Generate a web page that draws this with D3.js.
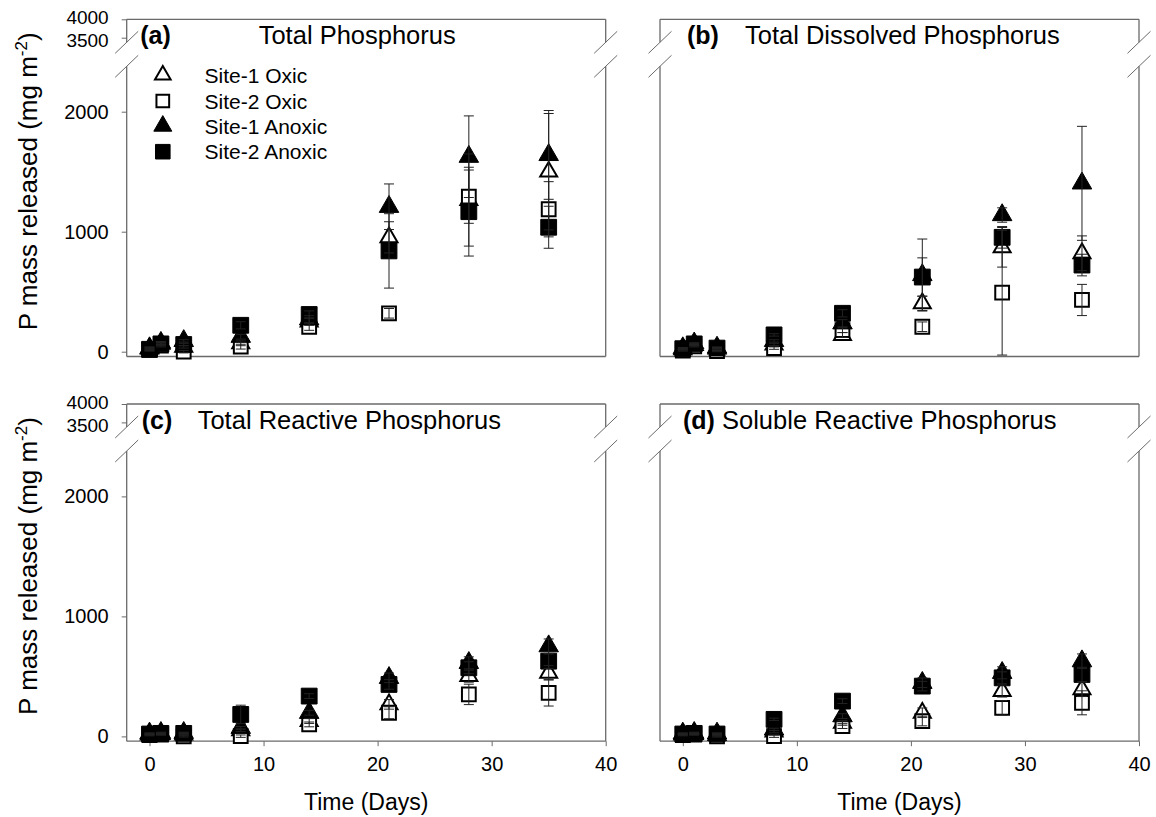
<!DOCTYPE html>
<html><head><meta charset="utf-8">
<script src="https://cdn.jsdelivr.net/npm/d3@7"></script>
<style>
body{margin:0;background:#fff}
svg{display:block;font-family:"Liberation Sans",Arial,sans-serif}
</style></head><body>
<svg id="chart" width="1156" height="817"></svg>
<script>
const days = [0, 1, 3, 8, 14, 21, 28, 35]
const seriesNames = ["Site-1 Oxic", "Site-2 Oxic", "Site-1 Anoxic", "Site-2 Anoxic"]
const panelLetters = ["(a)", "(b)", "(c)", "(d)"]
const panelTitles = ["Total Phosphorus", "Total Dissolved Phosphorus", "Total Reactive Phosphorus", "Soluble Reactive Phosphorus"]
const xTicks = [0, 10, 20, 30, 40]
const yTicksLow = [0, 1000, 2000]
const yTicksHigh = [3500, 4000]

// rows follow seriesNames order
const tpMean = [
	[25, 65, 40, 70, 250, 953, 1264, 1500],
	[15, 50, 0, 42, 208, 320, 1292, 1187],
	[30, 75, 90, 125, 270, 1208, 1625, 1640],
	[20, 65, 60, 220, 310, 840, 1167, 1037]]
const tpErr = [
	[10, 10, 10, 20, 30, 130, 384, 485],
	[10, 10, 10, 20, 30, 40, 222, 230],
	[10, 10, 10, 20, 30, 190, 340, 370],
	[10, 10, 10, 30, 30, 310, 370, 175]]

const tdpMean = [
	[20, 55, 25, 60, 139, 403, 870, 820],
	[10, 45, 5, 30, 180, 208, 492, 431],
	[30, 70, 35, 90, 237, 639, 1139, 1403],
	[25, 65, 30, 140, 320, 622, 953, 722]]
const tdpErr = [
	[5, 5, 5, 10, 20, 60, 165, 145],
	[5, 5, 5, 10, 20, 40, 520, 130],
	[5, 5, 5, 10, 30, 300, 60, 475],
	[5, 5, 5, 10, 30, 160, 90, 90]]

const trpMean = [
	[15, 20, 15, 50, 128, 267, 502, 530],
	[10, 15, 0, 2, 100, 197, 350, 363],
	[25, 30, 30, 72, 197, 488, 613, 752],
	[20, 25, 25, 183, 336, 433, 572, 627]]
const trpErr = [
	[5, 5, 5, 10, 20, 40, 50, 60],
	[5, 5, 5, 10, 20, 50, 85, 110],
	[5, 5, 5, 10, 20, 40, 50, 60],
	[5, 5, 5, 77, 20, 40, 50, 60]]

const srpMean = [
	[15, 20, 10, 40, 113, 197, 378, 392],
	[10, 15, 0, 2, 86, 128, 238, 280],
	[25, 30, 25, 58, 169, 447, 530, 627],
	[20, 25, 20, 142, 294, 419, 488, 516]]
const srpErr = [
	[5, 5, 5, 10, 20, 40, 50, 60],
	[5, 5, 5, 10, 20, 40, 60, 100],
	[5, 5, 5, 10, 20, 40, 50, 60],
	[5, 5, 5, 10, 20, 40, 50, 60]]

const axisColor = "#6a6a6a"
const W = 479, H = 337.2

const panels = [
	{mean: tpMean, err: tpErr, left: 126.7, top: 19.3, letterDx: 13.5, titleDx: 132, yLabels: true, xAxis: false, legend: true},
	{mean: tdpMean, err: tdpErr, left: 660, top: 19.3, letterDx: 27, titleDx: 85, yLabels: false, xAxis: false},
	{mean: trpMean, err: trpErr, left: 126.7, top: 404, letterDx: 15, titleDx: 71, yLabels: true, xAxis: true},
	{mean: srpMean, err: srpErr, left: 660, top: 404, letterDx: 23, titleDx: 62, yLabels: false, xAxis: true}
]

const svg = d3.select("#chart")

const openFill = [true, true, false, false]
const symType = [d3.symbolTriangle, d3.symbolSquare, d3.symbolTriangle, d3.symbolSquare]
const symSize = (i, legend) => {
	let s = symType[i] === d3.symbolSquare ? (openFill[i] ? 190 : 250) : (openFill[i] ? 125 : 165)
	return legend ? s * 0.85 : s
}

panels.forEach((p, pi) => {
	const g = svg.append("g")
	const bottom = p.top + H
	const x = d3.scaleLinear([-2, 40], [p.left, p.left + W])
	const yLow = d3.scaleLinear([0, 2000], [p.top + 332.4, p.top + 92.4])
	const yHigh = d3.scaleLinear([3500, 4000], [p.top + 18.4, p.top])

	const brk1 = p.top + 23, brk2 = p.top + 47

	// frame with broken sides
	const frame = g.append("g").attr("stroke", axisColor).attr("stroke-width", 1.3).attr("fill", "none")
	frame.append("line").attr("x1", p.left).attr("x2", p.left + W).attr("y1", p.top).attr("y2", p.top)
	frame.append("line").attr("x1", p.left).attr("x2", p.left + W).attr("y1", bottom).attr("y2", bottom)
	;[p.left, p.left + W].forEach(bx => {
		frame.append("line").attr("x1", bx).attr("x2", bx).attr("y1", p.top).attr("y2", brk1)
		frame.append("line").attr("x1", bx).attr("x2", bx).attr("y1", brk2).attr("y2", bottom)
		;[brk1, brk2].forEach(yc => {
			frame.append("line")
				.attr("x1", bx - 11.5).attr("y1", yc + 11)
				.attr("x2", bx + 11.5).attr("y2", yc - 11)
				.attr("stroke-width", 1)
		})
	})

	if (p.yLabels) {
		const fmt = d3.format("d")
		const axL = g.append("g").attr("transform", `translate(${p.left},0)`)
			.call(d3.axisLeft(yLow).tickValues(yTicksLow).tickFormat(fmt).tickSize(5).tickPadding(13))
		const axH = g.append("g").attr("transform", `translate(${p.left},0)`)
			.call(d3.axisLeft(yHigh).tickValues(yTicksHigh).tickFormat(fmt).tickSize(5).tickPadding(13))
		;[axL, axH].forEach(a => {
			a.select(".domain").remove()
			a.selectAll("line").attr("stroke", axisColor)
			a.selectAll("text").attr("font-size", 20).attr("font-family", null).attr("fill", "#000")
		})
		// the two upper labels sit close together, as in the original
		axH.selectAll(".tick text").attr("font-size", 19)
			.attr("dy", v => v === 4000 ? "0.22em" : "0.46em")

		g.append("text")
			.attr("transform", `translate(37,${p.top + 162}) rotate(-90)`)
			.attr("text-anchor", "middle")
			.attr("font-size", 26)
			.call(t => {
				t.append("tspan").text("P mass released (mg m")
				t.append("tspan").attr("font-size", 17).attr("dy", -10).text("-2")
				t.append("tspan").attr("dy", 10).text(")")
			})
	}

	if (p.xAxis) {
		const ax = g.append("g").attr("transform", `translate(0,${bottom})`)
			.call(d3.axisBottom(x).tickValues(xTicks).tickSize(5).tickPadding(11))
		ax.select(".domain").remove()
		ax.selectAll("line").attr("stroke", axisColor)
		ax.selectAll("text").attr("font-size", 20).attr("font-family", null).attr("fill", "#000")

		g.append("text")
			.attr("x", p.left + W / 2).attr("y", 810)
			.attr("text-anchor", "middle")
			.attr("font-size", 23)
			.text("Time (Days)")
	}

	g.append("text").attr("x", p.left + p.letterDx).attr("y", p.top + 25)
		.attr("font-size", 25).attr("font-weight", "bold").text(panelLetters[pi])
	g.append("text").attr("x", p.left + p.titleDx).attr("y", p.top + 25)
		.attr("font-size", 25.5).text(panelTitles[pi])

	// markers
	seriesNames.forEach((name, si) => {
		g.append("g").selectAll("path")
			.data(days.map((d, k) => ({d, v: p.mean[si][k]})))
			.join("path")
				.attr("transform", o => `translate(${x(o.d)},${yLow(o.v)})`)
				.attr("d", d3.symbol(symType[si], symSize(si)))
				.attr("fill", openFill[si] ? "#fff" : "#000")
				.attr("stroke", "#000")
				.attr("stroke-width", openFill[si] ? 2 : 1)
	})

	// error bars on top
	const eb = g.append("g").attr("stroke", "#222").attr("stroke-width", 1)
	seriesNames.forEach((name, si) => {
		days.forEach((d, k) => {
			const v = p.mean[si][k], e = p.err[si][k]
			const cx = x(d)
			const y1 = yLow(v + e), y2 = Math.min(yLow(v - e), bottom)
			eb.append("line").attr("x1", cx).attr("x2", cx).attr("y1", y1).attr("y2", y2)
			eb.append("line").attr("x1", cx - 5).attr("x2", cx + 5).attr("y1", y1).attr("y2", y1)
			if (yLow(v - e) < bottom)
				eb.append("line").attr("x1", cx - 5).attr("x2", cx + 5).attr("y1", y2).attr("y2", y2)
		})
	})

	if (p.legend) {
		const rows = [55.7, 81.7, 106.7, 132.4]
		const lg = g.append("g")
		seriesNames.forEach((name, si) => {
			const ly = p.top + rows[si]
			lg.append("path")
				.attr("transform", `translate(162.8,${ly})`)
				.attr("d", d3.symbol(symType[si], symSize(si, true)))
				.attr("fill", openFill[si] ? "#fff" : "#000")
				.attr("stroke", "#000")
				.attr("stroke-width", openFill[si] ? 2 : 1)
			lg.append("text").attr("x", 204.6).attr("y", ly).attr("dy", "0.36em")
				.attr("font-size", 21).text(name)
		})
	}
})
</script>
</body></html>
